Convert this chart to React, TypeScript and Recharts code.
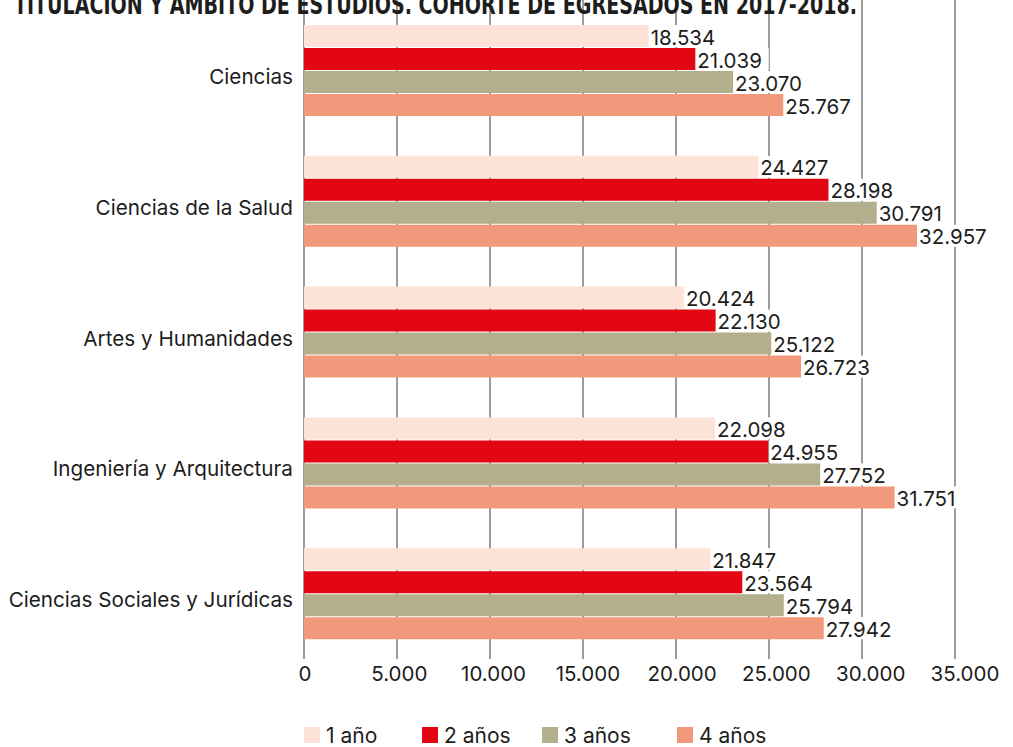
import React from "react";
import { BarChart, Bar, XAxis, YAxis, CartesianGrid, LabelList } from "recharts";

const categories = [
  "Ciencias",
  "Ciencias de la Salud",
  "Artes y Humanidades",
  "Ingeniería y Arquitectura",
  "Ciencias Sociales y Jurídicas",
];
const anio1 = [18534, 24427, 20424, 22098, 21847];
const anio2 = [21039, 28198, 22130, 24955, 23564];
const anio3 = [23070, 30791, 25122, 27752, 25794];
const anio4 = [25767, 32957, 26723, 31751, 27942];
const seriesNames = ["1 año", "2 años", "3 años", "4 años"];
const seriesColors = ["#FCE2D7", "#E30613", "#B3AE8C", "#F2997B"];
const xTicks = [0, 5000, 10000, 15000, 20000, 25000, 30000, 35000];
const title = "TITULACIÓN Y ÁMBITO DE ESTUDIOS. COHORTE DE EGRESADOS EN 2017-2018.";

const data = categories.map((c, i) => ({
  name: c,
  s1: anio1[i],
  s2: anio2[i],
  s3: anio3[i],
  s4: anio4[i],
}));

const fmt = (v: number) => String(v).replace(/\B(?=(\d{3})+(?!\d))/g, ".");
const FONT = "Inter, 'Noto Sans', sans-serif";
const TEXT = "#1d1d1b";
const PLOT_LEFT = 304;

const ValueLabel = (props: any) => {
  const { x, y, width, height, value } = props;
  const s = fmt(value);
  const tx = x + width + 2;
  const w = s.length * 11.4 + 4;
  return (
    <g>
      <rect x={tx - 1} y={y} width={w} height={height} fill="#ffffff" />
      <text
        x={tx}
        y={y + height / 2 + 1}
        dominantBaseline="central"
        fontFamily={FONT}
        fontSize={20.5}
        fill={TEXT}
      >
        {s}
      </text>
    </g>
  );
};

const YTick = (props: any) => {
  const { y, payload } = props;
  return (
    <text x={293} y={y + 6} textAnchor="end" dominantBaseline="central" fontFamily={FONT} fontSize={20.7} fill={TEXT}>
      {payload.value}
    </text>
  );
};

const XTick = (props: any) => {
  const { x, payload } = props;
  const lx = PLOT_LEFT + 1 + (x - PLOT_LEFT) * (660 / 651);
  return (
    <text x={lx} y={673} textAnchor="middle" dominantBaseline="central" fontFamily={FONT} fontSize={20.5} fill={TEXT}>
      {fmt(payload.value)}
    </text>
  );
};

const VLine = (props: any) => {
  const { x1, x2, y2, index } = props;
  return <line key={"v" + index} x1={x1} x2={x2} y1={0} y2={y2} stroke="#3a3a3a" strokeWidth={1} />;
};

const LegendBox = () => {
  const xs = [304, 422, 542, 677];
  return (
    <svg width={1013} height={30} style={{ position: "absolute", left: 0, top: 720 }}>
      {seriesNames.map((n, i) => (
        <g key={n}>
          <rect x={xs[i]} y={7} width={16} height={16} fill={seriesColors[i]} />
          <text x={xs[i] + 22} y={15.5} dominantBaseline="central" fontFamily={FONT} fontSize={21} fill={TEXT}>
            {n}
          </text>
        </g>
      ))}
    </svg>
  );
};

export default function App() {
  return (
    <div style={{ position: "absolute", left: 0, top: 0, width: 1013, height: 747, background: "#fff" }}>
      <BarChart
        width={1013}
        height={747}
        data={data}
        layout="vertical"
        margin={{ top: 5, right: 58, bottom: 58, left: 0 }}
        barSize={22}
        barGap={1}
      >
        <CartesianGrid horizontal={false} vertical={VLine} stroke="#3a3a3a" />
        <XAxis
          type="number"
          domain={[0, 35000]}
          ticks={xTicks}
          axisLine={false}
          tickLine={false}
          tick={XTick}
          height={30}
          interval={0}
        />
        <YAxis
          type="category"
          dataKey="name"
          width={304}
          axisLine={false}
          tickLine={false}
          tick={YTick}
          interval={0}
        />
        {["s1", "s2", "s3", "s4"].map((k, i) => (
          <Bar key={k} dataKey={k} name={seriesNames[i]} fill={seriesColors[i]} isAnimationActive={false}>
            <LabelList dataKey={k} content={ValueLabel} />
          </Bar>
        ))}
      </BarChart>
      <LegendBox />
      <svg width={1013} height={20} style={{ position: "absolute", left: 0, top: 0 }}>
        <text
          x={14}
          y={14}
          fontFamily="'Liberation Sans Narrow', 'DejaVu Sans Condensed', sans-serif"
          fontWeight="bold"
          fontSize={27}
          fill={TEXT}
          textLength={843}
          lengthAdjust="spacingAndGlyphs"
        >
          {title}
        </text>
      </svg>
    </div>
  );
}
